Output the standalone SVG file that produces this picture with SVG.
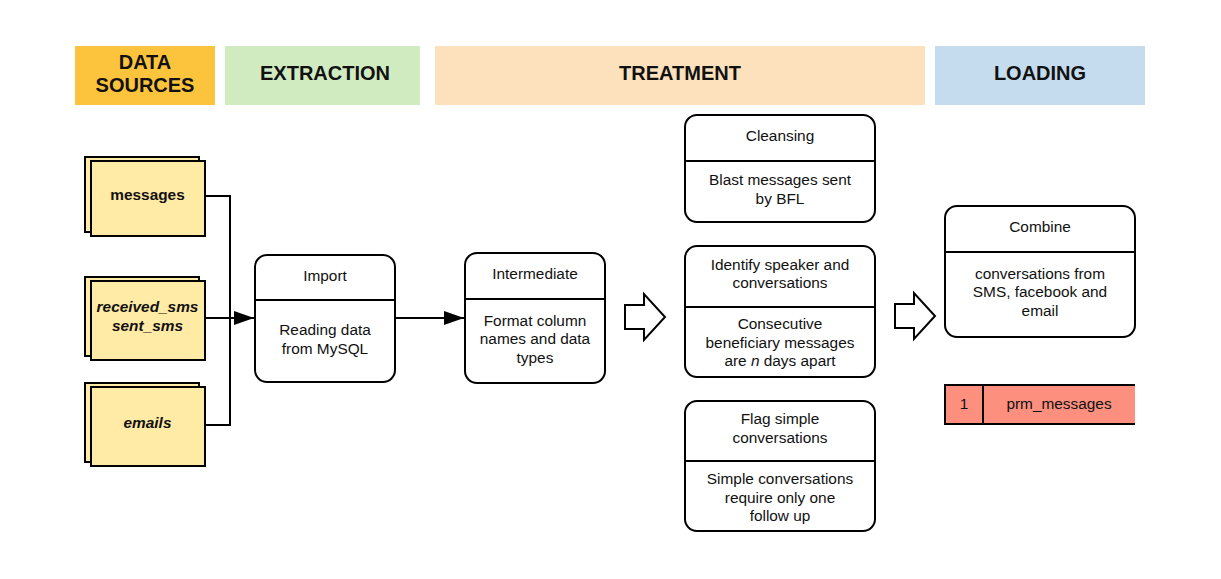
<svg xmlns="http://www.w3.org/2000/svg" width="1221" height="579" viewBox="0 0 1221 579">
<style>
.hdr{font-family:"Liberation Sans",Arial,sans-serif;font-size:20px;font-weight:bold;fill:#111;text-anchor:middle}
.t{font-family:"Liberation Sans",Arial,sans-serif;font-size:15.4px;fill:#111;text-anchor:middle}
.ds{font-family:"Liberation Sans",Arial,sans-serif;font-size:15.4px;font-weight:bold;fill:#111;text-anchor:middle}
.box{fill:#fff;stroke:#000;stroke-width:2}
.src{fill:#ffeaa6;stroke:#000;stroke-width:2}
.ln{stroke:#000;stroke-width:2;fill:none}
.blk{fill:#fff;stroke:#000;stroke-width:2;stroke-linejoin:miter}
</style>
<defs>
<marker id="ah" viewBox="0 0 20 14" refX="20" refY="7" markerWidth="20" markerHeight="14" markerUnits="userSpaceOnUse" orient="auto">
<path d="M0,0 L20,7 L0,14 Z" fill="#000"/>
</marker>
</defs>
<rect width="1221" height="579" fill="#fff"/>

<g id="headers">
<rect x="75" y="46" width="140" height="59" fill="#fcc43c"/>
<text class="hdr" x="145" y="69">DATA</text>
<text class="hdr" x="145" y="92">SOURCES</text>
<rect x="225" y="46" width="195" height="59" fill="#d1ebc1"/>
<text class="hdr" x="325" y="80">EXTRACTION</text>
<rect x="435" y="46" width="490" height="59" fill="#fde1bc"/>
<text class="hdr" x="680" y="80">TREATMENT</text>
<rect x="935" y="46" width="210" height="59" fill="#c5dcef"/>
<text class="hdr" x="1040" y="80">LOADING</text>
</g>

<g id="src-messages">
<rect class="src" x="85" y="157" width="114" height="75"/>
<rect class="src" x="91" y="161" width="114" height="75"/>
<text class="ds" x="147.5" y="200">messages</text>
</g>
<g id="src-sms">
<rect class="src" x="85" y="277" width="114" height="79"/>
<rect class="src" x="91" y="281" width="114" height="79"/>
<text class="ds" x="147.5" y="312" font-style="italic">received_sms</text>
<text class="ds" x="147.5" y="331" font-style="italic">sent_sms</text>
</g>
<g id="src-emails">
<rect class="src" x="85" y="383" width="114" height="79"/>
<rect class="src" x="91" y="387" width="114" height="79"/>
<text class="ds" x="147.5" y="428" font-style="italic">emails</text>
</g>

<g id="connectors">
<polyline class="ln" points="205,196 230,196 230,425 205,425"/>
<line class="ln" x1="205" y1="318" x2="254" y2="318" marker-end="url(#ah)"/>
<line class="ln" x1="395" y1="318" x2="464" y2="318" marker-end="url(#ah)"/>
<path class="blk" d="M625,305 L644,305 L644,294 L665,317 L644,340 L644,329 L625,329 Z"/>
<path class="blk" d="M895,304 L914,304 L914,293 L935,316 L914,339 L914,328 L895,328 Z"/>
</g>

<g id="import">
<rect class="box" x="255" y="255" width="140" height="127" rx="12"/>
<line class="ln" x1="255" y1="300" x2="395" y2="300"/>
<text class="t" x="325" y="281">Import</text>
<text class="t" x="325" y="335">Reading data</text>
<text class="t" x="325" y="354">from MySQL</text>
</g>

<g id="intermediate">
<rect class="box" x="465" y="253" width="140" height="130" rx="12"/>
<line class="ln" x1="465" y1="299" x2="605" y2="299"/>
<text class="t" x="535" y="279">Intermediate</text>
<text class="t" x="535" y="326">Format column</text>
<text class="t" x="535" y="344">names and data</text>
<text class="t" x="535" y="363">types</text>
</g>

<g id="cleansing">
<rect class="box" x="685" y="115" width="190" height="107" rx="12"/>
<line class="ln" x1="685" y1="161" x2="875" y2="161"/>
<text class="t" x="780" y="141">Cleansing</text>
<text class="t" x="780" y="185">Blast messages sent</text>
<text class="t" x="780" y="204">by BFL</text>
</g>

<g id="identify">
<rect class="box" x="685" y="246" width="190" height="131" rx="12"/>
<line class="ln" x1="685" y1="307" x2="875" y2="307"/>
<text class="t" x="780" y="270">Identify speaker and</text>
<text class="t" x="780" y="288">conversations</text>
<text class="t" x="780" y="329">Consecutive</text>
<text class="t" x="780" y="348">beneficiary messages</text>
<text class="t" x="780" y="366">are <tspan font-style="italic">n</tspan> days apart</text>
</g>

<g id="flag">
<rect class="box" x="685" y="401" width="190" height="130" rx="12"/>
<line class="ln" x1="685" y1="461" x2="875" y2="461"/>
<text class="t" x="780" y="424">Flag simple</text>
<text class="t" x="780" y="443">conversations</text>
<text class="t" x="780" y="484">Simple conversations</text>
<text class="t" x="780" y="503">require only one</text>
<text class="t" x="780" y="521">follow up</text>
</g>

<g id="combine">
<rect class="box" x="945" y="206" width="190" height="131" rx="12"/>
<line class="ln" x1="945" y1="252" x2="1135" y2="252"/>
<text class="t" x="1040" y="232">Combine</text>
<text class="t" x="1040" y="279">conversations from</text>
<text class="t" x="1040" y="297">SMS, facebook and</text>
<text class="t" x="1040" y="316">email</text>
</g>

<g id="prm-messages">
<rect x="945" y="385" width="190" height="39" fill="#fc8f7e"/>
<polyline class="ln" points="1135,385 945,385 945,424 1135,424"/>
<line class="ln" x1="983" y1="385" x2="983" y2="424"/>
<text class="t" x="964" y="409">1</text>
<text class="t" x="1059" y="409">prm_messages</text>
</g>
</svg>
